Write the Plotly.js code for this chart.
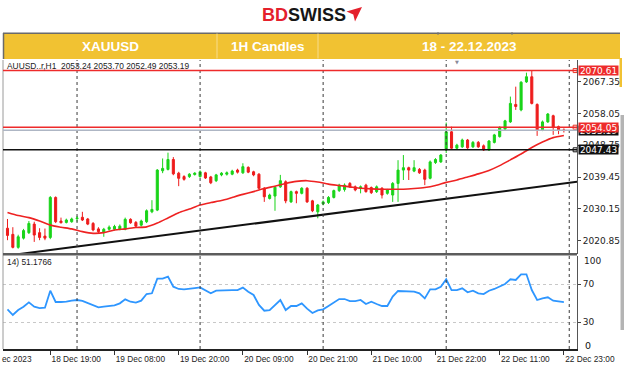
<!DOCTYPE html>
<html><head><meta charset="utf-8">
<script src="https://cdn.plot.ly/plotly-3.0.1.min.js"></script>
<style>html,body{margin:0;padding:0;background:#fff}#chart{width:624px;height:371px}</style>
</head><body><div id="chart"></div>
<script>
// ---- data (XAUUSD H1, 18 Dec 11:00 .. 22 Dec 23:00, bar index 0..104) ----
const openP = [2024.5,2022.7,2018.9,2021.6,2023.2,2025.7,2023.2,2022.2,2021.8,2033.5,
2026.6,2026.2,2026.4,2027.3,2027.7,2027.2,2025.9,2024.3,2023.3,2024.2,
2024.2,2024.2,2024.2,2027.1,2026.2,2025.4,2026.4,2029.3,2029.8,2041.3,
2041.7,2044.6,2040.6,2039.6,2039.6,2040.2,2039.6,2040.7,2039.5,2038.4,
2040.1,2040.3,2040.3,2041.5,2040.7,2042.3,2041.0,2040.3,2036.2,2033.2,
2033.9,2036.6,2038.1,2032.2,2035.2,2034.7,2036.2,2032.5,2029.3,2031.6,
2032.0,2033.5,2035.5,2035.8,2037.6,2036.6,2036.2,2037.1,2036.4,2035.2,
2036.2,2034.7,2034.2,2037.6,2041.5,2042.2,2041.2,2041.7,2041.5,2039.1,
2043.7,2043.9,2047.4,2052.7,2047.9,2048.3,2050.3,2048.3,2049.6,2048.6,
2047.4,2049.6,2051.3,2053.5,2055.6,2060.7,2059.1,2067.3,2068.8,2060.7,
2053.2,2055.6,2057.4,2054.2,2053.24];
const highP = [2027.2,2024.8,2022.6,2024.3,2026.6,2026.4,2024.5,2024.4,2033.9,2033.8,
2027.6,2027.3,2027.6,2028.1,2029.3,2027.5,2026.3,2024.8,2024.6,2025.3,
2025.5,2025.6,2027.6,2027.4,2026.6,2027.0,2030.0,2032.7,2041.8,2044.9,
2046.6,2045.3,2041.0,2040.0,2040.6,2040.9,2041.4,2041.0,2039.8,2040.4,
2040.9,2041.1,2041.6,2041.9,2043.5,2042.6,2041.3,2040.6,2036.5,2034.6,
2036.9,2040.1,2038.5,2035.5,2035.5,2036.5,2036.5,2032.8,2031.6,2032.6,
2033.9,2035.8,2037.5,2037.6,2038.0,2037.0,2037.0,2037.5,2036.7,2037.0,
2036.5,2036.0,2038.0,2044.4,2045.9,2042.5,2044.4,2042.1,2041.9,2044.3,
2045.0,2046.2,2055.4,2054.2,2049.2,2050.7,2050.6,2050.0,2050.0,2049.0,
2050.3,2052.1,2054.3,2056.2,2063.0,2065.9,2067.5,2070.0,2070.61,2061.0,
2056.0,2058.2,2057.7,2054.5,2053.70];
const lowP = [2021.0,2018.6,2018.5,2021.2,2022.8,2020.5,2021.0,2021.0,2021.3,2026.0,
2025.9,2025.9,2026.1,2026.4,2026.6,2025.4,2023.6,2023.0,2022.0,2023.8,
2023.8,2023.9,2023.9,2025.8,2024.7,2025.0,2026.0,2028.9,2029.5,2040.6,
2041.4,2040.0,2036.8,2038.4,2039.2,2039.9,2039.3,2038.9,2037.4,2038.0,
2039.7,2039.9,2040.0,2040.5,2040.4,2040.6,2039.7,2035.9,2032.2,2032.9,
2029.6,2036.3,2031.8,2031.9,2031.8,2034.4,2031.9,2029.2,2027.4,2031.2,
2031.6,2033.2,2035.1,2035.2,2036.3,2035.3,2034.7,2034.9,2034.5,2034.8,
2033.2,2034.3,2032.2,2032.2,2038.6,2038.6,2040.9,2040.4,2037.1,2038.8,
2043.3,2043.6,2046.5,2047.4,2047.5,2048.0,2047.7,2048.0,2048.0,2047.1,
2047.1,2049.3,2051.0,2053.2,2055.3,2059.1,2058.7,2067.0,2060.7,2051.5,
2052.9,2055.3,2051.8,2052.0,2052.49];
const closeP = [2022.4,2018.9,2022.0,2023.8,2025.9,2022.5,2021.8,2021.6,2033.5,2026.4,
2026.1,2026.9,2027.2,2027.5,2026.9,2025.7,2024.0,2023.5,2024.2,2024.8,
2025.0,2025.1,2027.1,2026.1,2025.1,2026.6,2029.6,2030.0,2041.5,2042.0,
2044.6,2040.4,2039.1,2038.8,2040.3,2040.6,2041.0,2039.2,2037.8,2040.1,
2040.6,2040.7,2041.2,2040.9,2042.5,2040.9,2040.1,2036.2,2033.7,2034.2,
2036.5,2038.4,2032.5,2035.2,2034.7,2036.2,2032.2,2029.6,2031.3,2032.2,
2033.5,2035.5,2037.1,2037.1,2036.6,2035.7,2036.6,2035.2,2034.9,2036.6,
2034.2,2035.7,2037.6,2041.5,2042.2,2041.5,2042.2,2040.7,2038.8,2043.9,
2044.6,2045.9,2052.7,2047.9,2048.8,2050.3,2048.0,2049.6,2048.3,2047.4,
2050.0,2051.8,2054.0,2055.9,2061.0,2060.1,2067.2,2068.8,2061.0,2053.2,
2055.6,2057.9,2054.1,2053.2,2053.19];
// moving average, read every 2nd bar (bars 0,2,4,...,104)
const maValues = [2029.1,2028.2,2027.6,2026.6,2025.4,2024.8,2024.3,2023.5,2023.0,2023.2,
2024.0,2024.3,2024.7,2024.9,2026.0,2027.5,2029.0,2030.1,2031.3,2032.0,
2032.6,2033.5,2034.4,2035.2,2036.1,2036.8,2037.6,2038.2,2038.4,2038.0,
2037.4,2037.0,2036.6,2036.2,2036.0,2035.9,2035.9,2035.9,2036.1,2036.4,
2037.0,2037.9,2038.6,2039.5,2040.4,2041.4,2042.8,2044.5,2046.2,2048.1,
2049.7,2051.0,2051.6];
const rsiValues = [43.5,37.6,42.8,46.3,50.8,46.3,44.9,45.3,63.0,51.2,
51.2,51.5,52.6,53.3,52.3,49.8,47.7,45.6,46.3,47.4,
47.7,49.8,54.0,51.5,50.5,52.6,59.5,60.3,75.6,75.6,
77.7,67.2,64.8,64.4,65.5,65.8,66.5,63.7,60.3,63.0,
63.4,63.7,63.7,63.7,66.2,62.0,58.5,48.1,42.1,42.8,
48.1,53.3,42.8,47.0,47.0,49.8,44.2,39.7,42.5,43.5,
47.0,50.5,54.3,54.3,52.2,52.2,53.3,49.1,51.5,49.1,
47.0,47.0,56.8,62.7,62.7,62.0,62.0,60.3,55.0,64.4,
64.4,67.2,74.9,63.7,63.7,65.5,61.3,63.0,60.3,59.5,
63.0,64.8,67.2,70.0,74.9,74.2,80.1,80.1,63.7,53.3,
55.0,56.1,52.6,51.5,51.18];
const rsiLast = '51.1766';
const tickBars = [8,20,32,44,56,68,80,92,104];
const tickLabels = ['18 Dec 19:00','19 Dec 08:00','19 Dec 20:00','20 Dec 09:00','20 Dec 21:00',
  '21 Dec 10:00','21 Dec 22:00','22 Dec 11:00','22 Dec 23:00'];
const priceTicks = [2067.35,2058.05,2048.75,2039.45,2030.15,2020.85];
const rsiLevels = [70,30];
const rsiBounds = ['100','0'];
const daySeparators = [13,36,59,82,105];
const resistanceLevels = [2070.61,2054.05];
const supportLevel = 2047.43;
const trendBars = [0,106.5];
const trendPrices = [2016.5,2038.1];
const symbolLabel = 'AUUSD..r,H1';
const bannerTexts = ['XAUUSD','1H Candles','18 - 22.12.2023'];

// ---- geometry helpers (pixel -> paper) ----
const M = {l:3, r:47, t:60, b:22};
const PW = 624 - M.l - M.r, PH = 371 - M.t - M.b;
const px = x => (x - M.l) / PW;
const py = y => (371 - M.b - y) / PH;

const bars = openP.map((_, i) => i);
const maBars = maValues.map((_, k) => 2 * k);
const last = bars.length - 1;
const bid = closeP[last];
const xRange = [-0.84, 106.45];
const GREEN = '#19D419', RED = '#EE1C1C';

const traces = [
  {type:'candlestick', x:bars, open:openP, high:highP, low:lowP, close:closeP,
   xaxis:'x', yaxis:'y', whiskerwidth:0, hoverinfo:'skip',
   increasing:{line:{color:GREEN,width:1}, fillcolor:GREEN},
   decreasing:{line:{color:RED,width:1}, fillcolor:RED}},
  {type:'scatter', mode:'lines', x:maBars, y:maValues, xaxis:'x', yaxis:'y',
   line:{color:'#EE2222', width:1.6, shape:'spline', smoothing:0.6}, hoverinfo:'skip'},
  {type:'scatter', mode:'lines', x:trendBars, y:trendPrices, xaxis:'x', yaxis:'y',
   line:{color:'#111', width:2}, hoverinfo:'skip'},
  {type:'scatter', mode:'lines', x:bars, y:rsiValues, xaxis:'x', yaxis:'y2',
   line:{color:'#2E96FF', width:1.8}, hoverinfo:'skip'},
  {type:'scatter', mode:'markers', x:[xRange[1]-0.35, xRange[1]-0.35, xRange[1]-0.35],
   y:[resistanceLevels[0], resistanceLevels[1], supportLevel], xaxis:'x', yaxis:'y', cliponaxis:false,
   marker:{symbol:'square-open', size:4, color:['#E32','#E32','#111'], line:{width:1}}, hoverinfo:'skip'}
];

const shapes = [];
// banner
shapes.push({type:'rect', xref:'paper', yref:'paper', x0:px(3), x1:px(620), y0:py(59), y1:py(33),
  fillcolor:'#F1C232', line:{width:0}, layer:'below'});
shapes.push({type:'line', xref:'paper', yref:'paper', x0:px(3), x1:px(620), y0:py(33.3), y1:py(33.3),
  line:{color:'#6a6a6a', width:1.5}, layer:'below'});
shapes.push({type:'line', xref:'paper', yref:'paper', x0:px(3.5), x1:px(3.5), y0:py(33), y1:py(59),
  line:{color:'#6a6a6a', width:1.5}, layer:'below'});
[217, 318].forEach(x => shapes.push({type:'line', xref:'paper', yref:'paper', x0:px(x), x1:px(x),
  y0:py(33.5), y1:py(58.5), line:{color:'#F7DC8C', width:1}, layer:'below'}));
[438, 512].forEach(x => shapes.push({type:'line', xref:'paper', yref:'paper', x0:px(x), x1:px(x),
  y0:py(32), y1:py(35), line:{color:'#777', width:1}, layer:'below'}));
// right edge artefacts
shapes.push({type:'rect', xref:'paper', yref:'paper', x0:px(619.5), x1:px(622), y0:py(87), y1:py(58),
  fillcolor:'#F1C232', line:{width:0}, layer:'below'});
shapes.push({type:'rect', xref:'paper', yref:'paper', x0:px(620.5), x1:px(624), y0:py(330), y1:py(115),
  fillcolor:'#b4b4b4', line:{width:0}, layer:'below'});
// logo arrow
shapes.push({type:'path', xref:'paper', yref:'paper',
  path:`M ${px(346.5)} ${py(11.5)} L ${px(362)} ${py(7)} L ${px(355)} ${py(21.5)} L ${px(353.3)} ${py(14.5)} Z`,
  fillcolor:'#E4202C', line:{width:0}, layer:'below'});
// left border
shapes.push({type:'line', xref:'paper', yref:'paper', x0:px(3), x1:px(3), y0:0, y1:py(60),
  line:{color:'#9a9a9a', width:1}});
// day separators
daySeparators.forEach(b => shapes.push({type:'line', xref:'x', yref:'paper', x0:b, x1:b, y0:0, y1:1,
  line:{color:'#3a3a3a', width:1, dash:'dot'}}));
// horizontal levels
shapes.push({type:'line', xref:'paper', yref:'y', x0:0, x1:1, y0:bid, y1:bid, line:{color:'#AEB6C4', width:1.5}});
resistanceLevels.forEach(v => shapes.push({type:'line', xref:'paper', yref:'y', x0:0, x1:1, y0:v, y1:v,
  line:{color:'#EE2B2B', width:1.5}}));
shapes.push({type:'line', xref:'paper', yref:'y', x0:0, x1:1, y0:supportLevel, y1:supportLevel,
  line:{color:'#111', width:1.5}});
// panel separator
shapes.push({type:'line', xref:'paper', yref:'paper', x0:0, x1:1, y0:py(254.3), y1:py(254.3),
  line:{color:'#5c5c5c', width:2.5}});

const fmt = v => v.toFixed(2);
const priceBox = (v, bg) => ({xref:'paper', yref:'y', x:px(578), y:v, xanchor:'left', yanchor:'middle',
  text:fmt(v), showarrow:false, bgcolor:bg, width:39, height:9, borderpad:0, align:'center',
  font:{family:'DejaVu Sans', size:9, color:'#fff'}});
const bannerFont = {family:'Liberation Sans', size:13.5, color:'#ffffff'};
const axisLabelFont = {family:'DejaVu Sans', size:9, color:'#222'};

const annotations = [
  {xref:'paper', yref:'paper', x:px(304), y:py(15), xanchor:'center', yanchor:'middle', showarrow:false,
   text:'<b><span style="color:#E4202C">BD</span><span style="color:#161616">SWISS</span></b>',
   font:{family:'Liberation Sans', size:18}},
  {xref:'paper', yref:'paper', x:px(110), y:py(46.5), xanchor:'center', yanchor:'middle', showarrow:false,
   text:'<b>'+bannerTexts[0]+'</b>', font:bannerFont},
  {xref:'paper', yref:'paper', x:px(267.5), y:py(46.5), xanchor:'center', yanchor:'middle', showarrow:false,
   text:'<b>'+bannerTexts[1]+'</b>', font:bannerFont},
  {xref:'paper', yref:'paper', x:px(469), y:py(46.5), xanchor:'center', yanchor:'middle', showarrow:false,
   text:'<b>'+bannerTexts[2]+'</b>', font:bannerFont},
  {xref:'paper', yref:'paper', x:px(5), y:py(66), xanchor:'left', yanchor:'middle', showarrow:false,
   text: symbolLabel + '  ' + [openP[last],highP[last],lowP[last],closeP[last]].map(fmt).join(' '),
   font:{family:'Liberation Sans', size:8.4, color:'#222'}},
  {xref:'paper', yref:'paper', x:px(5), y:py(262), xanchor:'left', yanchor:'middle', showarrow:false,
   text:'14) ' + rsiLast, font:{family:'Liberation Sans', size:8.4, color:'#222'}},
  {xref:'paper', yref:'paper', x:px(457), y:py(62), xanchor:'center', yanchor:'middle', showarrow:false,
   text:'▼', font:{family:'DejaVu Sans', size:5, color:'#8a8a9a'}},
  {xref:'paper', yref:'paper', x:px(0), y:py(358.5), xanchor:'left', yanchor:'middle', showarrow:false,
   text:'ec 2023', font:{family:'Liberation Sans', size:8.3, color:'#222'}},
  {xref:'paper', yref:'paper', x:px(582), y:py(261), xanchor:'left', yanchor:'middle', showarrow:false,
   text:rsiBounds[0], font:axisLabelFont},
  {xref:'paper', yref:'paper', x:px(582.5), y:py(345), xanchor:'left', yanchor:'middle', showarrow:false,
   text:'<span>' + rsiBounds[1] + '</span>', font:{family:'DejaVu Sans', size:9.5, color:'#111'}},
  priceBox(bid, '#111'),
  priceBox(resistanceLevels[1], '#EE2B2B'),
  priceBox(resistanceLevels[0], '#EE2B2B'),
  priceBox(supportLevel, '#111')
];

const layout = {
  width:624, height:371, margin:M, showlegend:false, dragmode:false,
  paper_bgcolor:'#fff', plot_bgcolor:'#fff', boxgap:0.45,
  font:{family:'Liberation Sans', size:9, color:'#222'},
  xaxis:{range:xRange, anchor:'y2', rangeslider:{visible:false}, showgrid:false, zeroline:false,
    tickmode:'array', tickvals:tickBars, ticktext:tickLabels, ticklabelposition:'outside right',
    ticks:'outside', ticklen:4, tickcolor:'#333', showline:true, linecolor:'#222', linewidth:1.5,
    ticklabelstandoff:2,
    tickfont:{family:'Liberation Sans', size:8.3, color:'#222'}, fixedrange:true},
  yaxis:{domain:[py(254), 1], range:[2016.96, 2073.70], side:'right', anchor:'x',
    tickmode:'array', tickvals:priceTicks, tickformat:'.2f', ticks:'outside', ticklen:3, tickcolor:'#444',
    showline:true, linecolor:'#555', linewidth:1, showgrid:false, zeroline:false,
    tickfont:axisLabelFont, fixedrange:true},
  yaxis2:{domain:[0, py(255.5)], range:[2.11, 99.77], side:'right', anchor:'x',
    tickmode:'array', tickvals:rsiLevels, ticks:'outside', ticklen:3, tickcolor:'#444',
    showline:true, linecolor:'#555', linewidth:1, showgrid:true, gridcolor:'#c8c8c8', griddash:'dot',
    zeroline:false, tickfont:axisLabelFont, fixedrange:true},
  shapes:shapes, annotations:annotations
};

Plotly.newPlot('chart', traces, layout, {staticPlot:true, displayModeBar:false});
</script>
</body></html>
